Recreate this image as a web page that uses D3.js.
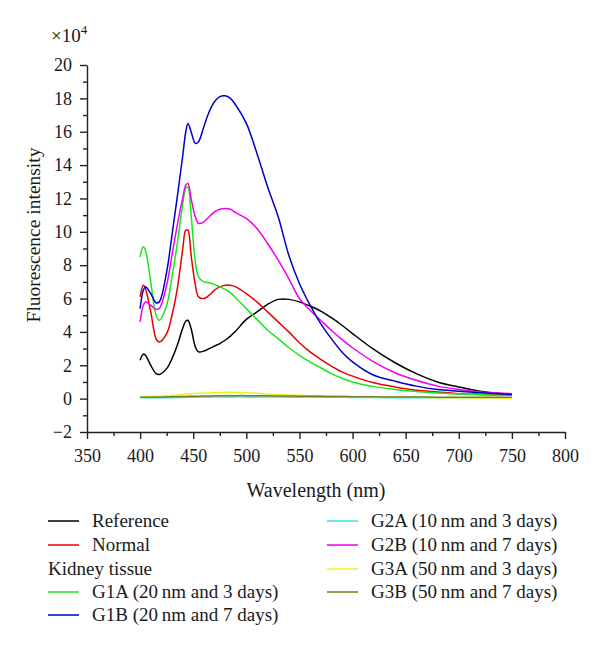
<!DOCTYPE html>
<html><head><meta charset="utf-8">
<script src="https://cdn.jsdelivr.net/npm/d3@7/dist/d3.min.js"></script>
<style>body{margin:0;background:#fff}svg{display:block}</style>
</head><body>
<svg id="c" width="600" height="649"></svg>
<script>
const wavelengths = [400,403,405,410,415,418,425,430,435,440,443,445,448,452,455,460,465,470,475,480,485,490,500,510,520,530,540,550,560,570,580,590,600,620,640,660,680,700,720,750];
const reference = [2.3,2.67,2.6,2.0,1.5,1.45,1.8,2.4,3.2,4.2,4.65,4.7,4.2,3.1,2.8,2.85,3.0,3.15,3.3,3.5,3.75,4.05,4.75,5.2,5.65,5.95,5.95,5.8,5.55,5.25,4.85,4.4,3.9,2.95,2.15,1.5,1.0,0.7,0.45,0.25];
const normal = [6.1,6.8,6.6,5.2,3.6,3.4,3.9,5.0,6.6,8.9,10.1,10.1,8.6,6.8,6.1,6.0,6.2,6.5,6.7,6.8,6.8,6.7,6.3,5.8,5.2,4.6,4.0,3.35,2.8,2.35,1.95,1.6,1.35,0.95,0.7,0.5,0.4,0.3,0.25,0.2];
const g1a = [8.5,9.1,8.9,7.0,5.0,4.7,5.6,7.3,9.3,11.6,12.6,12.7,11.0,8.2,7.3,7.0,6.95,6.85,6.7,6.55,6.35,6.05,5.4,4.75,4.1,3.6,3.05,2.6,2.2,1.85,1.5,1.22,1.0,0.72,0.55,0.43,0.34,0.28,0.24,0.2];
const g1b = [5.4,6.5,6.7,6.3,5.75,5.8,7.6,9.8,12.1,14.5,16.0,16.5,16.0,15.3,15.4,16.3,17.2,17.8,18.1,18.15,18.0,17.6,16.5,14.7,12.7,10.9,8.6,6.9,5.6,4.5,3.6,2.8,2.2,1.4,1.05,0.75,0.55,0.45,0.35,0.25];
const g2a = [0.05,0.05,0.05,0.05,0.05,0.05,0.06,0.06,0.07,0.07,0.08,0.08,0.08,0.08,0.09,0.09,0.09,0.1,0.1,0.1,0.1,0.1,0.1,0.1,0.1,0.1,0.09,0.09,0.09,0.08,0.08,0.08,0.07,0.07,0.06,0.06,0.05,0.05,0.05,0.05];
const g2b = [4.6,5.6,5.8,5.6,5.35,5.4,6.8,8.6,10.4,12.0,12.8,12.9,12.0,10.9,10.5,10.6,10.9,11.2,11.35,11.4,11.35,11.15,10.8,10.2,9.3,8.3,7.2,6.0,5.3,4.7,4.1,3.55,3.05,2.2,1.55,1.1,0.75,0.55,0.4,0.3];
const g3a = [0.1,0.11,0.12,0.13,0.14,0.15,0.18,0.2,0.22,0.25,0.27,0.28,0.3,0.31,0.32,0.33,0.35,0.36,0.37,0.38,0.38,0.37,0.35,0.32,0.28,0.25,0.22,0.2,0.18,0.16,0.14,0.13,0.12,0.1,0.09,0.08,0.06,0.05,0.04,0.03];
const g3b = [0.08,0.08,0.08,0.09,0.09,0.09,0.1,0.11,0.12,0.13,0.13,0.14,0.14,0.15,0.15,0.16,0.16,0.17,0.17,0.18,0.18,0.18,0.18,0.17,0.17,0.16,0.16,0.15,0.15,0.14,0.13,0.13,0.12,0.11,0.1,0.1,0.09,0.09,0.08,0.08];

const seriesNames = ["Reference","Normal","G1A (20\u2009nm and 3 days)","G1B (20\u2009nm and 7 days)","G2A (10\u2009nm and 3 days)","G2B (10\u2009nm and 7 days)","G3A (50\u2009nm and 3 days)","G3B (50\u2009nm and 7 days)"];
const seriesColors = ["#000000","#e80000","#18e818","#0000c8","#30e8ec","#f000f0","#f0f020","#7a7a20"];
const seriesValues = [reference, normal, g1a, g1b, g2a, g2b, g3a, g3b];
const xTicks = [350,400,450,500,550,600,650,700,750,800];
const yTicks = [-2,0,2,4,6,8,10,12,14,16,18,20];

const svg = d3.select("#c");
const font = "'Liberation Serif','Times New Roman',serif";
const ink = "#1a1a1a";
const x = d3.scaleLinear().domain([350,800]).range([87,565]);
const y = d3.scaleLinear().domain([-2,20]).range([432,65]);

// minor ticks
const gx = svg.append("g").attr("transform","translate(0,432)");
gx.call(d3.axisBottom(x).tickValues(d3.range(375,800,50)).tickSize(4).tickFormat(""));
gx.call(g=>g.select(".domain").remove());
const gx2 = svg.append("g").attr("transform","translate(0,432)")
  .call(d3.axisBottom(x).tickValues(xTicks).tickSize(7).tickPadding(10).tickSizeOuter(0));
gx2.selectAll("text").attr("font-family",font).attr("font-size",18).attr("fill",ink);
const gy = svg.append("g").attr("transform","translate(87,0)");
gy.call(d3.axisLeft(y).tickValues(d3.range(-1,20,2)).tickSize(4).tickFormat(""));
gy.call(g=>g.select(".domain").remove());
const gy2 = svg.append("g").attr("transform","translate(87,0)")
  .call(d3.axisLeft(y).tickValues(yTicks).tickSize(7).tickPadding(8).tickSizeOuter(0).tickFormat(d=>d<0?"\u2212"+(-d):d));
gy2.selectAll("text").attr("font-family",font).attr("font-size",18).attr("fill",ink);
svg.selectAll(".domain, .tick line").attr("stroke","#222").attr("stroke-width",1.4);

// lines
const line = d3.line().x((d,i)=>x(wavelengths[i])).y(d=>y(d)).curve(d3.curveCatmullRom.alpha(0.5));
const order = [4,0,1,2,5,3,6,7];
order.forEach(k=>{
  svg.append("path").datum(seriesValues[k]).attr("d",line)
    .attr("fill","none").attr("stroke",seriesColors[k]).attr("stroke-width",1.5);
});

// multiplier
const m = svg.append("text").attr("x",51).attr("y",42).attr("font-family",font).attr("font-size",19).attr("fill",ink);
m.append("tspan").text("\u00d710");
m.append("tspan").attr("dy",-8).attr("font-size",13).text("4");

// axis titles
svg.append("text").attr("transform","translate(40,235) rotate(-90)").attr("text-anchor","middle")
  .attr("font-family",font).attr("font-size",19.5).attr("fill",ink).text("Fluorescence intensity");
svg.append("text").attr("x",316).attr("y",497).attr("text-anchor","middle")
  .attr("font-family",font).attr("font-size",20).attr("fill",ink).text("Wavelength (nm)");

// legend
const legendRows = [
  {k:0,col:0,row:0},{k:1,col:0,row:1},{k:-1,col:0,row:2,label:"Kidney tissue"},{k:2,col:0,row:3},{k:3,col:0,row:4},
  {k:4,col:1,row:0},{k:5,col:1,row:1},{k:6,col:1,row:2},{k:7,col:1,row:3}
];
const colX = [48,327];
const rowY = [521,545,569,592,615];
legendRows.forEach(r=>{
  const lx = colX[r.col], ly = rowY[r.row];
  if(r.k>=0){
    svg.append("line").attr("x1",lx).attr("x2",lx+31).attr("y1",ly).attr("y2",ly)
      .attr("stroke",seriesColors[r.k]).attr("stroke-width",1.5);
    svg.append("text").attr("x",lx+44).attr("y",ly+6).attr("font-family",font).attr("font-size",19).attr("fill",ink).text(seriesNames[r.k]);
  } else {
    svg.append("text").attr("x",lx).attr("y",ly+6).attr("font-family",font).attr("font-size",19).attr("fill",ink).text(r.label);
  }
});
</script>
</body></html>
